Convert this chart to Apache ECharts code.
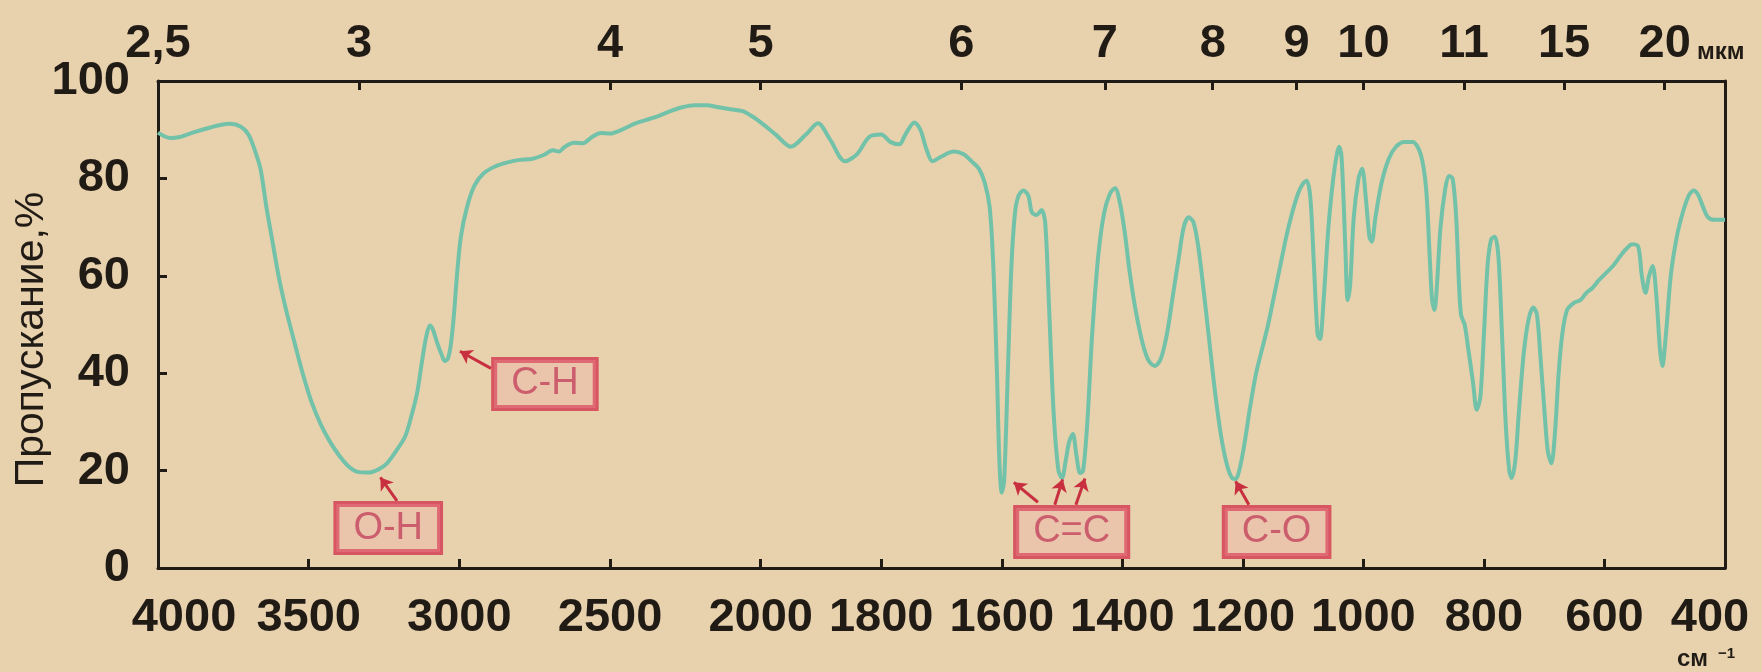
<!DOCTYPE html>
<html>
<head>
<meta charset="utf-8">
<script src="https://cdn.jsdelivr.net/npm/echarts@6/dist/echarts.min.js"></script>
<style>
  html, body { margin: 0; padding: 0; background: #e8d1ad; }
  #chart { width: 1762px; height: 672px; }
</style>
</head>
<body>
<div id="chart"></div>
<script>
// Infrared spectrum: wavenumber (cm^-1) vs transmittance (%)
const wavenumbers = [
  4000, 3960, 3928, 3880, 3835, 3790, 3760, 3725, 3700, 3680, 3660, 3640, 3620, 3600,
  3575, 3550, 3520, 3490, 3460, 3430, 3400, 3370, 3340, 3300, 3270, 3240, 3210, 3180,
  3160, 3140, 3125, 3110, 3098, 3088, 3075, 3060, 3048, 3038, 3028, 3018, 3008, 2995,
  2975, 2950, 2920, 2880, 2840, 2800, 2760, 2720, 2690, 2670, 2650, 2620, 2590, 2560,
  2530, 2500, 2460, 2420, 2380, 2340, 2300, 2260, 2220, 2180, 2140, 2100, 2060, 2030,
  2000, 1975, 1950, 1925, 1905, 1885, 1860, 1840, 1820, 1800, 1785, 1770, 1760, 1745,
  1735, 1725, 1715, 1700, 1680, 1664, 1650, 1638, 1628, 1620, 1614, 1608, 1604, 1600,
  1596, 1590, 1584, 1578, 1572, 1564, 1556, 1550, 1542, 1534, 1528, 1522, 1514, 1506,
  1500, 1494, 1488, 1482, 1476, 1470, 1465, 1458, 1450, 1440, 1430, 1420, 1412, 1404,
  1396, 1388, 1378, 1366, 1356, 1346, 1336, 1326, 1316, 1306, 1298, 1290, 1282, 1274,
  1266, 1256, 1246, 1236, 1226, 1218, 1212, 1206, 1198, 1188, 1178, 1168, 1158, 1148,
  1138, 1128, 1118, 1108, 1100, 1094, 1088, 1082, 1076, 1072, 1066, 1058, 1050, 1044,
  1040, 1036, 1030, 1026, 1022, 1016, 1008, 1002, 996, 990, 986, 980, 970, 958,
  946, 932, 918, 905, 896, 890, 886, 882, 878, 872, 864, 858, 852, 846,
  842, 838, 832, 826, 818, 812, 806, 800, 794, 788, 782, 776, 770, 764,
  758, 754, 748, 742, 734, 726, 718, 712, 706, 700, 694, 688, 682, 676,
  670, 662, 650, 640, 630, 620, 610, 598, 586, 574, 564, 554, 544, 538,
  532, 526, 520, 514, 508, 504, 498, 490, 480, 470, 460, 452, 444, 436,
  428, 418, 410, 400
];
const transmittance = [
  89.4, 88.3, 88.5, 89.5, 90.3, 91, 91.2, 90.6, 89, 86, 82, 74, 67, 60,
  53, 47, 40, 34, 29.5, 26, 23.2, 21, 19.8, 19.6, 20.2, 21.5, 24, 27,
  31, 36, 42, 47.5, 49.8, 49, 46.5, 44, 42.5, 43, 46, 52, 60, 68,
  74, 78.5, 81, 82.5, 83.3, 83.8, 84, 84.8, 85.8, 85.5, 86.5, 87.3, 87.2, 88.5,
  89.3, 89.2, 90, 91.2, 92, 92.8, 93.8, 94.6, 95, 95, 94.6, 94.2, 93.8, 92.8,
  91.5, 89, 86.5, 89, 91.3, 88, 83.5, 85, 88.5, 89, 87.5, 87, 89, 91.5,
  90, 86, 83.5, 84.5, 85.5, 85, 83.5, 82, 79, 74, 62, 40, 22, 15.5,
  18, 40, 62, 73, 76.5, 77.5, 76.5, 73, 72.5, 73.5, 71, 55, 32, 20,
  18.5, 22, 26, 27.5, 23, 19.5, 20, 30, 48, 64, 73, 77, 78, 75,
  69, 61, 53, 46, 42.5, 41.5, 43, 48, 56, 64, 70, 72, 71, 66,
  58, 47, 36, 27, 21, 18.5, 18.3, 20, 25, 33, 40, 45, 50, 56,
  62, 68, 73, 77, 79, 79.5, 76, 62, 48, 47, 55, 70, 80, 85,
  86.5, 84, 66, 55, 58, 72, 80, 82, 76, 68, 67, 72, 79, 84,
  86.5, 87.5, 87.5, 85, 78, 64, 55, 53, 58, 70, 78, 80.5, 80, 72,
  60, 52, 50, 45, 38, 32.5, 35, 48, 62, 67.5, 68, 64, 48, 30,
  20, 18.5, 22, 32, 44, 51, 53.5, 52, 43, 33, 24, 21.5, 28, 40,
  48, 53, 54.5, 55, 56.5, 57.5, 59, 60.5, 62, 64, 65.5, 66.5, 66, 60,
  56.5, 60, 62, 56, 45, 41.5, 48, 60, 68, 73, 76.5, 77.5, 76.5, 74,
  72, 71.5, 71.5, 71.5
];

// Bottom scale ticks (cm^-1) and top scale ticks (µm, placed by wavenumber)
const bottomTickWn = [4000, 3500, 3000, 2500, 2000, 1800, 1600, 1400, 1200, 1000, 800, 600, 400];
const topTickWn = [4000, 3333, 2500, 2000, 1667, 1429, 1250, 1111, 1000, 833, 667, 500];
const topTickLabels = ['2,5', '3', '4', '5', '6', '7', '8', '9', '10', '11', '15', '20'];
const yTicks = [0, 20, 40, 60, 80, 100];

// Band assignments: box text, box position, arrows (from -> to) in (cm^-1, %)
const bandLabels = ['O-H', 'C-H', 'C=C', 'C-O'];
const bandBoxWn = [3236, 2716, 1484, 1144];
const bandBoxT = [8.2, 37.8, 7.4, 7.4];
const bandArrows = [
  [[3207, 13.8], [3262, 18.6]],
  [[2895, 41.0], [2998, 44.5]],
  [[1540, 13.5], [1580, 17.6]],
  [[1512, 13.0], [1499, 18.2]],
  [[1477, 13.0], [1462, 18.4]],
  [[1190, 13.0], [1212, 17.8]]
];

// Chart scale: 4000-2000 cm^-1 is drawn at half the scale of 2000-400 cm^-1
function toAxis(w) { return w >= 2000 ? (4000 - w) / 2 : 1000 + (2000 - w); }
function nearestIndex(list, u) {
  let best = 0, bd = Infinity;
  list.forEach((w, i) => { const d = Math.abs(toAxis(w) - u); if (d < bd) { bd = d; best = i; } });
  return best;
}

const INK = '#211b16';
const FONT = 'Liberation Sans';

const lineData = wavenumbers.map((w, i) => [toAxis(w), transmittance[i]]);
const boxData = bandLabels.map((t, i) => [toAxis(bandBoxWn[i]), bandBoxT[i], t]);
const arrowData = bandArrows.map(a => ({ coords: a.map(p => [toAxis(p[0]), p[1]]) }));

const chart = echarts.init(document.getElementById('chart'), null, { renderer: 'canvas' });

const axisLineStyle = { color: INK, width: 3 };
const tickFont = { fontFamily: FONT, fontSize: 47, fontWeight: 'bold', color: INK };

// End labels of the wavenumber scale sit inside the frame edges
function bottomLabel(v) {
  const i = nearestIndex(bottomTickWn, v);
  const s = String(bottomTickWn[i]);
  if (i === 0) return '{first|' + s + '}';
  if (i === bottomTickWn.length - 1) return '{last|' + s + '}';
  return s;
}

chart.setOption({
  backgroundColor: '#e8d1ad',
  animation: false,
  grid: { left: 158, right: 37, top: 81, bottom: 104, outerBoundsMode: 'none', containLabel: false },
  xAxis: [
    {
      type: 'value', position: 'bottom', min: 0, max: toAxis(400),
      axisLine: { show: true, onZero: false, lineStyle: axisLineStyle },
      axisTick: { show: true, inside: true, length: 9, lineStyle: { color: INK, width: 3 },
        customValues: bottomTickWn.map(toAxis) },
      axisLabel: Object.assign({ show: true, customValues: bottomTickWn.map(toAxis), margin: 27,
        formatter: bottomLabel,
        rich: {
          first: Object.assign({ padding: [0, 0, 0, 52] }, tickFont),
          last: Object.assign({ padding: [0, 30, 0, 0] }, tickFont)
        } }, tickFont),
      splitLine: { show: false },
      name: '{a|см}{b|−1}',
      nameLocation: 'end', nameGap: -48, nameMoveOverlap: false,
      nameTextStyle: { verticalAlign: 'top', align: 'left', padding: [78, 0, 0, 0],
        rich: {
          a: { fontFamily: FONT, fontSize: 24, fontWeight: 'bold', color: INK },
          b: { fontFamily: FONT, fontSize: 15, fontWeight: 'bold', color: INK, verticalAlign: 'top', padding: [0, 0, 12, 10] }
        } }
    },
    {
      type: 'value', position: 'top', min: 0, max: toAxis(400),
      axisLine: { show: true, onZero: false, lineStyle: axisLineStyle },
      axisTick: { show: true, inside: true, length: 9, lineStyle: { color: INK, width: 3 },
        customValues: topTickWn.map(toAxis) },
      axisLabel: Object.assign({ show: true, customValues: topTickWn.map(toAxis), margin: 13,
        formatter: v => topTickLabels[nearestIndex(topTickWn, v)] }, tickFont),
      splitLine: { show: false },
      name: 'мкм',
      nameLocation: 'end', nameGap: -28, nameMoveOverlap: false,
      nameTextStyle: { fontFamily: FONT, fontSize: 24, fontWeight: 'bold', color: INK,
        verticalAlign: 'bottom', align: 'left', padding: [0, 0, 17, 0] }
    }
  ],
  yAxis: [
    {
      type: 'value', position: 'left', min: yTicks[0], max: yTicks[yTicks.length - 1], interval: 20,
      axisLine: { show: true, onZero: false, lineStyle: axisLineStyle },
      axisTick: { show: true, inside: true, length: 9, lineStyle: { color: INK, width: 3 } },
      axisLabel: Object.assign({ margin: 28 }, tickFont),
      splitLine: { show: false },
      name: 'Пропускание,%',
      nameLocation: 'middle', nameRotate: 90, nameGap: 106, nameMoveOverlap: false,
      nameTextStyle: { fontFamily: FONT, fontSize: 41, color: INK, padding: [0, 30, 0, 0] }
    },
    {
      type: 'value', position: 'right', min: 0, max: 100,
      axisLine: { show: true, onZero: false, lineStyle: axisLineStyle },
      axisTick: { show: false }, axisLabel: { show: false }, splitLine: { show: false }
    }
  ],
  series: [
    {
      type: 'line', xAxisIndex: 0, yAxisIndex: 0,
      data: lineData, showSymbol: false, smooth: 0.3,
      lineStyle: { color: '#72c2aa', width: 4 },
      z: 3
    },
    {
      type: 'lines', coordinateSystem: 'cartesian2d', xAxisIndex: 0, yAxisIndex: 0,
      data: arrowData, symbol: ['none', 'arrow'], symbolSize: 12,
      lineStyle: { color: '#c8303f', width: 3, opacity: 1 },
      z: 4
    },
    {
      type: 'scatter', xAxisIndex: 0, yAxisIndex: 0,
      data: boxData, symbolSize: 0,
      label: {
        show: true, position: 'inside',
        formatter: p => p.value[2],
        fontFamily: FONT, fontSize: 38, color: '#c4445e',
        backgroundColor: 'rgba(240,160,165,0.35)',
        borderColor: '#d3364f', borderWidth: 3,
        padding: [6, 17, 4, 17]
      },
      z: 5
    }
  ]
});
</script>
</body>
</html>
